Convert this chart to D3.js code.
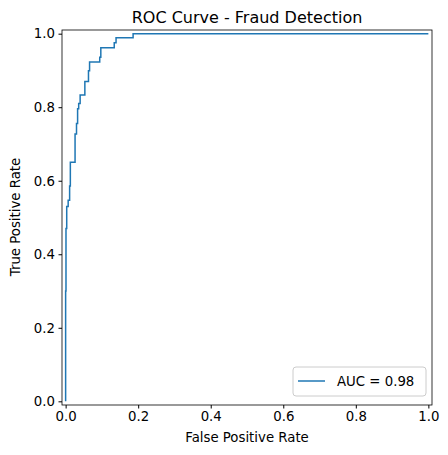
<!DOCTYPE html>
<html><head><meta charset="utf-8">
<script src="https://cdn.jsdelivr.net/npm/d3@7"></script>
<style>body{margin:0;background:#fff}text{font-family:"DejaVu Sans",sans-serif}</style>
</head><body><svg id="c" width="448" height="455"></svg>
<script>
const fpr = [0,0,0.001,0.001,0.003,0.003,0.007,0.007,0.011,0.011,0.013,0.013,0.026,0.026,0.030,0.030,0.033,0.033,0.036,0.036,0.040,0.040,0.053,0.053,0.063,0.063,0.066,0.066,0.094,0.094,0.097,0.097,0.134,0.134,0.139,0.139,0.186,0.186,1.0];
const tpr = [0,0.30,0.30,0.47,0.47,0.53,0.53,0.547,0.547,0.586,0.586,0.65,0.65,0.727,0.727,0.756,0.756,0.796,0.796,0.81,0.81,0.833,0.833,0.870,0.870,0.899,0.899,0.923,0.923,0.936,0.936,0.962,0.962,0.975,0.975,0.989,0.989,1.0,1.0];
const ticks = [0,0.2,0.4,0.6,0.8,1.0];
const auc = 0.98;
const svg = d3.select("#c");
const x = d3.scaleLinear().domain([-0.01,1.01]).range([62,432]);
const y = d3.scaleLinear().domain([-0.01,1.01]).range([405,30]);
const gx = svg.append("g").attr("transform","translate(0,405)").call(d3.axisBottom(x).tickValues(ticks).tickFormat(d3.format(".1f")).tickSizeOuter(0).tickSize(3.5).tickPadding(3.5));
const gy = svg.append("g").attr("transform","translate(62,0)").call(d3.axisLeft(y).tickValues(ticks).tickFormat(d3.format(".1f")).tickSizeOuter(0).tickSize(3.5).tickPadding(3.5));
[gx,gy].forEach(g=>{g.select(".domain").remove();g.selectAll("text").attr("font-size",13.3).attr("fill","#000").style("font-family","DejaVu Sans");g.selectAll("line").attr("stroke","#000");});
svg.append("rect").attr("x",62).attr("y",30).attr("width",370).attr("height",375).attr("fill","none").attr("stroke","#000").attr("stroke-width",0.8);
svg.append("path").datum(fpr.map((f,i)=>[f,tpr[i]])).attr("fill","none").attr("stroke","#1f77b4").attr("stroke-width",1.5)
  .attr("d",d3.line().x(d=>x(d[0])).y(d=>y(d[1])));
svg.append("text").attr("x",247).attr("y",23).attr("text-anchor","middle").attr("font-size",16).text("ROC Curve - Fraud Detection");
svg.append("text").attr("x",247).attr("y",442).attr("text-anchor","middle").attr("font-size",13.3).text("False Positive Rate");
svg.append("text").attr("transform","translate(20,217) rotate(-90)").attr("text-anchor","middle").attr("font-size",13.3).text("True Positive Rate");
const lg = svg.append("g");
lg.append("rect").attr("x",293).attr("y",367).attr("width",133).attr("height",29).attr("rx",3).attr("fill","#fff").attr("stroke","#ccc");
lg.append("line").attr("x1",298).attr("x2",325).attr("y1",381).attr("y2",381).attr("stroke","#1f77b4").attr("stroke-width",1.5);
lg.append("text").attr("x",337).attr("y",386).attr("font-size",13.3).text("AUC = " + auc.toFixed(2));
</script></body></html>
